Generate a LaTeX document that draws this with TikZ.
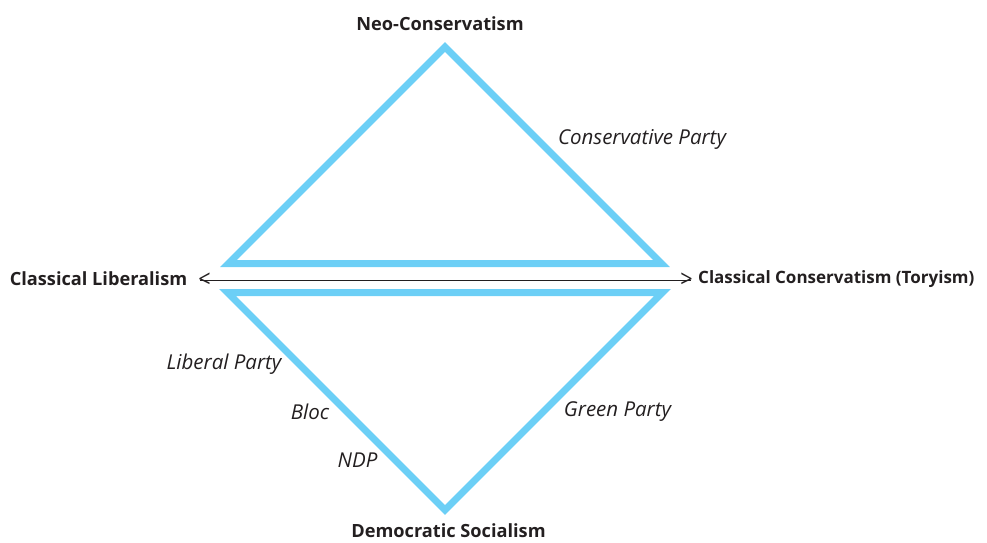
\documentclass[tikz,border=0pt]{standalone}
\usepackage{fontspec}
\setmainfont{Open Sans}
\definecolor{tri}{RGB}{108,207,246}
\definecolor{ink}{RGB}{35,31,32}
\begin{document}
\begin{tikzpicture}[x=1pt,y=-1pt,
  tribox/.style={draw=tri,line width=7pt,miter limit=10,line join=miter},
  head/.style={font=\fontsize{18.2}{21}\selectfont\bfseries,text=ink,inner sep=0pt},
  party/.style={font=\fontsize{20.5}{24}\selectfont\itshape,text=ink,inner sep=0pt},
  tip/.style={font=\fontsize{24}{26}\selectfont\addfontfeature{FakeStretch=0.9},text=ink,inner sep=0pt}]
\useasboundingbox (0,0) rectangle (987,542);
% triangles
\coordinate (ua) at (445,47);
\coordinate (ul) at (228.5,263.5);
\coordinate (ur) at (661.5,263.5);
\coordinate (la) at (445,510);
\coordinate (ll) at (227.5,292.5);
\coordinate (lr) at (662.5,292.5);
\draw[tribox] (ua) -- (ur) -- (ul) -- cycle;
\draw[tribox] (la) -- (lr) -- (ll) -- cycle;
% headings
\node[head] (neo) at (440,24) {Neo-Conservatism};
\node[head] (cl) at (98.5,279) {Classical Liberalism};
\node[head,font=\fontsize{17}{20}\selectfont\bfseries,anchor=west] (cc) at (698,279) {Classical Conservatism (Toryism)};
\node[head] (ds) at (448.5,531) {Democratic Socialism};
% axis
\node[tip] (al) at (204.5,280) {<};
\node[tip] (ar) at (686.5,280) {>};
\draw[ink,line width=0.9pt] ([xshift=2pt]al.west) -- ([xshift=-2pt]ar.east);
% parties
\node[party] (cp) at (642,139) {Conservative Party};
\node[party] (lp) at (224,364) {Liberal Party};
\node[party] (bloc) at (310,412) {Bloc};
\node[party] (ndp) at (357.5,460) {NDP};
\node[party] (gp) at (617.5,412) {Green Party};
\end{tikzpicture}
\end{document}
